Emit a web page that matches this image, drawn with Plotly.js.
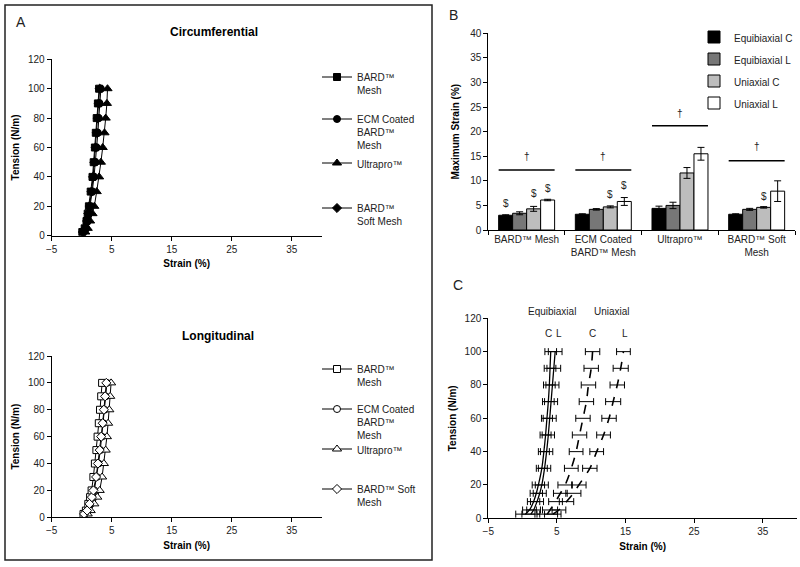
<!DOCTYPE html>
<html>
<head>
<meta charset="utf-8">
<script src="https://cdn.plot.ly/plotly-3.0.1.min.js"></script>
<style>
  body { margin: 0; background: #fff; }
  #plot { width: 800px; height: 567px; }
</style>
</head>
<body>
<div id="plot"></div>
<script>
// tension levels (N/m) shared by panels A and C
var tension = [2.5, 5, 10, 15, 20, 30, 40, 50, 60, 70, 80, 90, 100];

// Panel A - circumferential strain (%)
var circBard  = [0.1, 0.5, 0.8, 1.0, 1.2, 1.5, 1.8, 2.0, 2.2, 2.35, 2.5, 2.7, 2.9];
var circEcm   = [0.3, 0.7, 1.0, 1.2, 1.4, 1.75, 2.05, 2.3, 2.5, 2.7, 2.85, 3.0, 3.2];
var circUltra = [0.6, 1.0, 1.4, 1.8, 2.1, 2.5, 2.9, 3.2, 3.5, 3.8, 4.0, 4.2, 4.3];
var circSoft  = [0.2, 0.6, 0.9, 1.1, 1.3, 1.65, 1.9, 2.1, 2.3, 2.5, 2.65, 2.85, 3.0];

// Panel A - longitudinal strain (%)
var longBard  = [0.3, 0.7, 1.1, 1.4, 1.65, 1.95, 2.2, 2.45, 2.65, 2.85, 3.05, 3.25, 3.4];
var longEcm   = [0.5, 1.0, 1.5, 1.9, 2.1, 2.5, 2.8, 3.1, 3.35, 3.6, 3.8, 4.0, 4.2];
var longUltra = [1.0, 1.5, 2.1, 2.6, 3.0, 3.4, 3.7, 4.0, 4.2, 4.4, 4.6, 4.75, 4.9];
var longSoft  = [0.4, 0.9, 1.3, 1.7, 1.95, 2.4, 2.7, 3.0, 3.25, 3.5, 3.7, 3.9, 4.1];

var meshNames = ["BARD™<br>Mesh", "ECM Coated<br>BARD™<br>Mesh", "Ultrapro™", "BARD™<br>Soft Mesh"];
var meshNamesLong = ["BARD™<br>Mesh", "ECM Coated<br>BARD™<br>Mesh", "Ultrapro™", "BARD™ Soft<br>Mesh"];
var symbols = ["square", "circle", "triangle-up", "diamond"];

// Panel B - maximum strain (%)
var meshCats = ["BARD™ Mesh", "ECM Coated<br>BARD™ Mesh", "Ultrapro™", "BARD™ Soft<br>Mesh"];
var eqCMax  = [3.0, 3.2, 4.4, 3.2];
var eqCErr  = [0.1, 0.1, 0.45, 0.1];
var eqLMax  = [3.4, 4.2, 5.0, 4.2];
var eqLErr  = [0.3, 0.15, 0.65, 0.2];
var uniCMax = [4.3, 4.7, 11.6, 4.6];
var uniCErr = [0.5, 0.2, 1.1, 0.15];
var uniLMax = [6.1, 5.8, 15.5, 7.9];
var uniLErr = [0.15, 0.8, 1.3, 2.1];
var barNames = ["Equibiaxial C", "Equibiaxial L", "Uniaxial C", "Uniaxial L"];
var barColors = ["#000000", "#777777", "#bdbdbd", "#ffffff"];

// significance marks: line height and dagger height per mesh
var sigLineY = [12.2, 12.2, 21.2, 14.1];
var daggerY  = [15.0, 15.0, 23.7, 16.9];
// "$" marks: [mesh index, series index, height]
var dollarMarks = [[0, 0, 5.4], [0, 2, 7.5], [0, 3, 8.5], [1, 2, 7.25], [1, 3, 9.0], [3, 2, 6.9]];

// Panel C - mean strain (%) and SD, all meshes
var eqC    = [0.4, 1.0, 1.6, 2.0, 2.3, 2.8, 3.1, 3.35, 3.55, 3.75, 3.9, 4.0, 4.1];
var eqCSd  = [1.4, 1.0, 0.9, 0.9, 0.9, 0.8, 0.8, 0.8, 0.8, 0.85, 0.85, 0.85, 0.85];
var eqL    = [1.2, 1.6, 2.1, 2.5, 2.8, 3.2, 3.5, 3.75, 3.95, 4.15, 4.35, 4.55, 4.75];
var eqLSd  = [1.3, 1.0, 0.95, 0.95, 0.95, 0.9, 0.9, 0.9, 0.95, 0.95, 0.95, 1.0, 1.0];
var uniC   = [3.6, 4.0, 4.8, 5.5, 6.2, 7.1, 7.8, 8.3, 8.8, 9.3, 9.6, 10.0, 10.2];
var uniCSd = [1.5, 1.1, 1.0, 1.0, 1.05, 1.0, 1.0, 1.05, 1.05, 1.05, 1.05, 1.05, 1.05];
var uniL   = [4.4, 5.3, 6.4, 7.4, 8.2, 9.8, 10.8, 11.8, 12.6, 13.2, 13.8, 14.3, 14.7];
var uniLSd = [1.2, 1.0, 1.05, 1.1, 1.05, 1.05, 1.0, 1.0, 1.05, 1.1, 1.05, 1.1, 1.0];
// labels over the panel C curves and where they sit on the strain axis
var curveLabels = ["C", "L", "C", "L"];
var curveLabelX = [3.75, 5.3, 10.15, 14.9];

var W = 800, H = 567;
function px(x) { return x / W; }
function py(y) { return 1 - y / H; }

var font = "Liberation Sans, Arial, sans-serif";
var traces = [];

// panel A traces, each with its own legend
function addA(series, names, xa, ya, firstLegend, open) {
  series.forEach(function (vals, i) {
    traces.push({
      x: vals, y: tension, xaxis: xa, yaxis: ya,
      type: "scatter", mode: "lines+markers",
      name: names[i],
      legend: "legend" + (firstLegend + i),
      line: { color: "#000", width: 1 },
      marker: {
        symbol: symbols[i], size: i == 2 ? 8 : 7,
        color: open ? "#fff" : "#000",
        line: { color: "#000", width: 1 }
      }
    });
  });
}
addA([circBard, circEcm, circUltra, circSoft], meshNames, "x", "y", 2, false);
addA([longBard, longEcm, longUltra, longSoft], meshNamesLong, "x2", "y2", 6, true);

// panel B bars
[[eqCMax, eqCErr], [eqLMax, eqLErr], [uniCMax, uniCErr], [uniLMax, uniLErr]].forEach(function (s, i) {
  traces.push({
    x: meshCats, y: s[0], xaxis: "x3", yaxis: "y3",
    type: "bar", name: barNames[i], legend: "legend", legendgroup: "b" + i,
    marker: { color: barColors[i], line: { color: "#000", width: 1 } },
    error_y: { type: "data", array: s[1], visible: true, color: "#000", thickness: 1, width: 3.5 }
  });
});

// panel C lines with horizontal error bars
[[eqC, eqCSd, "solid"], [eqL, eqLSd, "solid"], [uniC, uniCSd, "dash"], [uniL, uniLSd, "dash"]].forEach(function (s) {
  traces.push({
    x: s[0], y: tension, xaxis: "x4", yaxis: "y4",
    type: "scatter", mode: "lines", showlegend: false,
    line: { color: "#000", width: s[2] == "dash" ? 1.6 : 1.3, dash: s[2], shape: "spline" },
    error_x: { type: "data", array: s[1], visible: true, color: "#000", thickness: 1, width: 3.5 }
  });
});

function strainAxis(x0, x1, anchor) {
  return {
    domain: [px(x0), px(x1)], anchor: anchor, range: [-5, 40],
    tickmode: "linear", tick0: -5, dtick: 10,
    showgrid: false, zeroline: false, showline: true, linecolor: "#000", linewidth: 1,
    ticks: "outside", ticklen: 4, tickcolor: "#000",
    tickfont: { size: 10, color: "#222" },
    title: { text: "Strain (%)", font: { size: 10, color: "#000", weight: "bold" }, standoff: 6 }
  };
}
function tensionAxis(y0, y1, anchor) {
  return {
    domain: [py(y0), py(y1)], anchor: anchor, range: [0, 120],
    tickmode: "linear", tick0: 0, dtick: 20,
    showgrid: false, zeroline: false, showline: true, linecolor: "#000", linewidth: 1,
    ticks: "outside", ticklen: 4, tickcolor: "#000",
    tickfont: { size: 10, color: "#222" },
    title: { text: "Tension (N/m)", font: { size: 10, color: "#000", weight: "bold" }, standoff: 6 }
  };
}

function oneLegend(x, y) {
  return {
    x: px(x), y: py(y), xanchor: "left", yanchor: "top",
    bgcolor: "rgba(0,0,0,0)", borderwidth: 0, valign: "top",
    itemwidth: 30, font: { size: 10, color: "#222", family: font }
  };
}

var shapes = [
  // panel A frame
  { type: "rect", xref: "paper", yref: "paper", x0: px(5), x1: px(432), y0: py(560), y1: py(5),
    line: { color: "#222", width: 1.5 } }
];

// bar group geometry for the significance marks
var bargap = 0.27;
var groupW = 1 - bargap;
function barCenter(cat, s) { return cat - groupW / 2 + (s + 0.5) * groupW / 4; }

var annotations = [
  { text: "A", x: px(21), y: py(22), font: { size: 14 } },
  { text: "B", x: px(453), y: py(15), font: { size: 14 } },
  { text: "C", x: px(458), y: py(285), font: { size: 14 } },
  { text: "<b>Circumferential</b>", x: px(214), y: py(32), font: { size: 12, color: "#000" } },
  { text: "<b>Longitudinal</b>", x: px(218), y: py(336), font: { size: 12, color: "#000" } },
  { text: "Equibiaxial", x: px(552), y: py(311), font: { size: 10 } },
  { text: "Uniaxial", x: px(612), y: py(311), font: { size: 10 } }
].map(function (a) {
  return Object.assign({ xref: "paper", yref: "paper", showarrow: false, xanchor: "center", yanchor: "middle" }, a);
});

// C / L labels above the panel C curves
curveLabels.forEach(function (t, i) {
  annotations.push({
    text: t, xref: "x4", yref: "y4", x: curveLabelX[i], y: 111,
    showarrow: false, font: { size: 10, color: "#222" }
  });
});

meshCats.forEach(function (c, i) {
  shapes.push({
    type: "line", xref: "x3", yref: "y3",
    x0: i - groupW / 2, x1: i + groupW / 2, y0: sigLineY[i], y1: sigLineY[i],
    line: { color: "#000", width: 1.5 }
  });
  annotations.push({
    text: "†", xref: "x3", yref: "y3", x: i, y: daggerY[i],
    showarrow: false, font: { size: 10, color: "#222" }
  });
});
dollarMarks.forEach(function (d) {
  annotations.push({
    text: "$", xref: "x3", yref: "y3", x: barCenter(d[0], d[1]), y: d[2],
    showarrow: false, font: { size: 10, color: "#222" }
  });
});

var layout = {
  width: W, height: H,
  margin: { l: 0, r: 0, t: 0, b: 0 },
  paper_bgcolor: "#fff", plot_bgcolor: "#fff",
  font: { family: font, color: "#222", size: 10 },
  barmode: "group", bargap: bargap, bargroupgap: 0,
  xaxis: strainAxis(51.7, 321.7, "y"),
  yaxis: tensionAxis(235.7, 59.3, "x"),
  xaxis2: strainAxis(51.7, 321.7, "y2"),
  yaxis2: tensionAxis(517.3, 356, "x2"),
  xaxis3: {
    domain: [px(488.3), px(795)], anchor: "y3", type: "category",
    showgrid: false, zeroline: false, showline: true, linecolor: "#000", linewidth: 1,
    ticks: "outside", ticklen: 4, tickcolor: "#000", tickson: "boundaries",
    tickfont: { size: 10, color: "#222" }
  },
  yaxis3: {
    domain: [py(230), py(33.3)], anchor: "x3", range: [0, 40],
    tickmode: "linear", tick0: 0, dtick: 5,
    showgrid: false, zeroline: false, showline: true, linecolor: "#000", linewidth: 1,
    ticks: "outside", ticklen: 4, tickcolor: "#000",
    tickfont: { size: 10, color: "#222" },
    title: { text: "Maximum Strain (%)", font: { size: 10, color: "#000", weight: "bold" }, standoff: 8 }
  },
  xaxis4: strainAxis(488.3, 797, "y4"),
  yaxis4: tensionAxis(518.3, 318.3, "x4"),
  legend: Object.assign(oneLegend(694, 24), { tracegroupgap: 3, traceorder: "grouped" }),
  legend2: oneLegend(317, 64),
  legend3: oneLegend(317, 106),
  legend4: oneLegend(317, 150),
  legend5: oneLegend(317, 195),
  legend6: oneLegend(317, 356),
  legend7: oneLegend(317, 396),
  legend8: oneLegend(317, 436),
  legend9: oneLegend(317, 476),
  shapes: shapes,
  annotations: annotations
};

Plotly.newPlot("plot", traces, layout, { staticPlot: true });
</script>
</body>
</html>
